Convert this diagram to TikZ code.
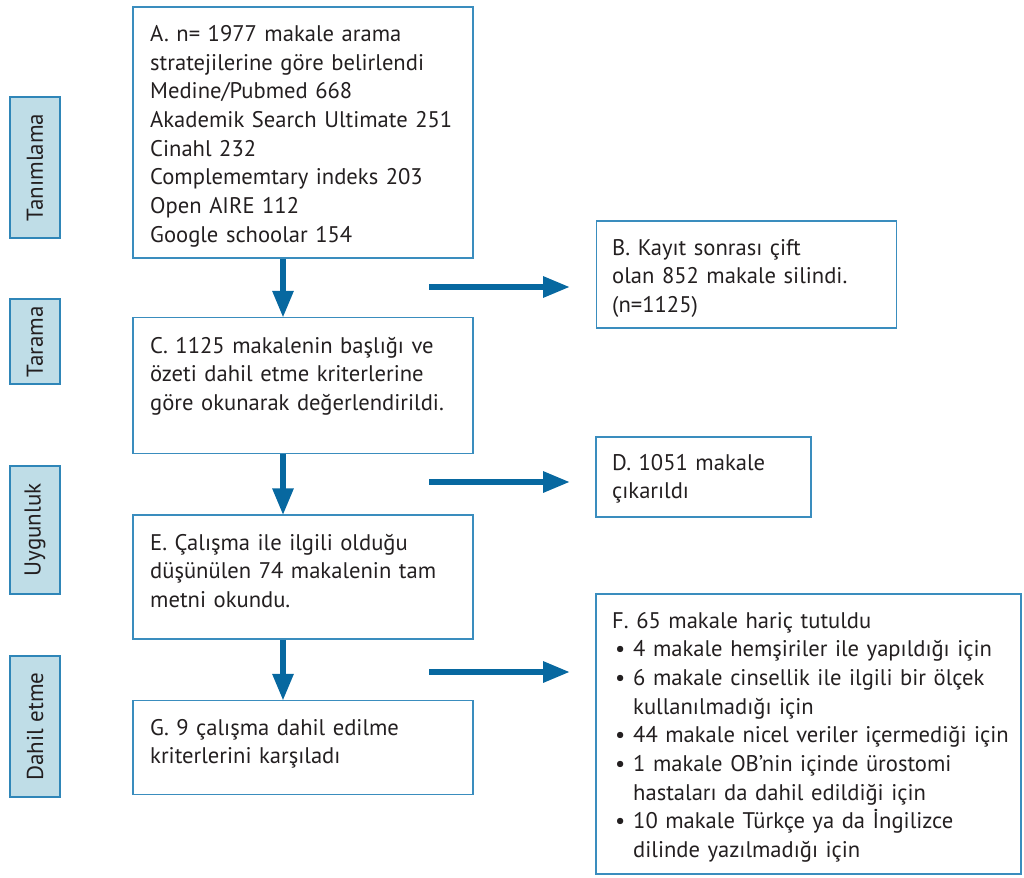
\documentclass[tikz,border=0pt]{standalone}
\usepackage{fontspec}
\setmainfont{PT Sans}
\usetikzlibrary{arrows.meta}
\definecolor{boxline}{HTML}{3A8DBE}
\definecolor{arrowblue}{HTML}{0768A0}
\definecolor{labfill}{HTML}{BFDDE7}
\definecolor{labline}{HTML}{2F86B8}
\definecolor{txt}{HTML}{231F20}
\tikzset{
  box/.style={draw=boxline, line width=1.5pt, inner sep=0pt},
  boxtext/.style={anchor=base west, inner sep=0pt, text width=#1, align=left,
    font=\fontsize{22.6}{28.7}\selectfont, text=txt},
  boxtext/.default=330pt,
  phase/.style={draw=labline, fill=labfill, line width=1.5pt, rotate=90,
    inner sep=0pt, minimum height=50pt, font=\fontsize{23}{28}\selectfont, text=txt},
  flow/.style={draw=arrowblue, line width=6pt,
    -{Triangle[width=20pt,length=27pt]}, arrowblue, shorten >=0pt},
}
\newcommand{\bul}{\makebox[21pt][l]{\hspace{3pt}\textbullet}}
\newcommand{\ind}{\hspace*{21pt}}
\begin{document}
\begin{tikzpicture}[x=1pt,y=-1pt]
\useasboundingbox (0,0) rectangle (1024,877);
% phase labels
\node[phase, minimum width=141pt] (p1) at (35,167.5) {Tanımlama};
\node[phase, minimum width=85pt] (p2) at (35,341.5) {Tarama};
\node[phase, minimum width=128pt] (p3) at (35,530) {Uygunluk};
\node[phase, minimum width=141pt] (p4) at (35,726.5) {Dahil etme};
% main boxes
\node[box, minimum width=340pt, minimum height=251pt] (A) at (303,132.5) {};
\node[box, minimum width=340pt, minimum height=136pt] (C) at (303,385.5) {};
\node[box, minimum width=340pt, minimum height=124pt] (E) at (303,577) {};
\node[box, minimum width=340pt, minimum height=94pt] (G) at (303,747.5) {};
\node[box, minimum width=300pt, minimum height=107pt] (B) at (746.5,274.5) {};
\node[box, minimum width=215pt, minimum height=80pt] (D) at (703.5,477) {};
\node[box, minimum width=425pt, minimum height=280pt] (F) at (808.5,734) {};
% texts
\node[boxtext] (At) at (150,41.5) {A. n= 1977 makale arama\\stratejilerine göre belirlendi\\Medine/Pubmed 668\\Akademik Search Ultimate 251\\Cinahl 232\\Complememtary indeks 203\\Open AIRE 112\\Google schoolar 154};
\node[boxtext] (Ct) at (150,353) {C. 1125 makalenin başlığı ve\\özeti dahil etme kriterlerine\\göre okunarak değerlendirildi.};
\node[boxtext] (Et) at (150,550) {E. Çalışma ile ilgili olduğu\\düşünülen 74 makalenin tam\\metni okundu.};
\node[boxtext] (Gt) at (150,735) {G. 9 çalışma dahil edilme\\kriterlerini karşıladı};
\node[boxtext=280pt] (Bt) at (612,255) {B. Kayıt sonrası çift\\olan 852 makale silindi.\\(n=1125)};
\node[boxtext=200pt] (Dt) at (612,470) {D. 1051 makale\\çıkarıldı};
\node[boxtext=405pt] (Ft) at (612,628) {F. 65 makale hariç tutuldu\\\bul 4 makale hemşiriler ile yapıldığı için\\\bul 6 makale cinsellik ile ilgili bir ölçek\\\ind kullanılmadığı için\\\bul 44 makale nicel veriler içermediği için\\\bul 1 makale OB’nin içinde ürostomi\\\ind hastaları da dahil edildiği için\\\bul 10 makale Türkçe ya da İngilizce\\\ind dilinde yazılmadığı için};
% vertical arrows (offset left of box centre, as in the reference)
\draw[flow] ([xshift=-20pt]A.south) -- ([xshift=-20pt,yshift=-1pt]C.north);
\draw[flow] ([xshift=-20pt]C.south) -- ([xshift=-20pt,yshift=-1pt]E.north);
\draw[flow] ([xshift=-20pt]E.south) -- ([xshift=-20pt,yshift=-1pt]G.north);
% horizontal arrows
\coordinate (b0) at (429,287);
\coordinate (b1) at (570,287);
\coordinate (d0) at (429,482);
\coordinate (d1) at (570,482);
\coordinate (f0) at (429,672);
\coordinate (f1) at (570,672);
\draw[flow] (b0) -- (b1);
\draw[flow] (d0) -- (d1);
\draw[flow] (f0) -- (f1);
\end{tikzpicture}
\end{document}
